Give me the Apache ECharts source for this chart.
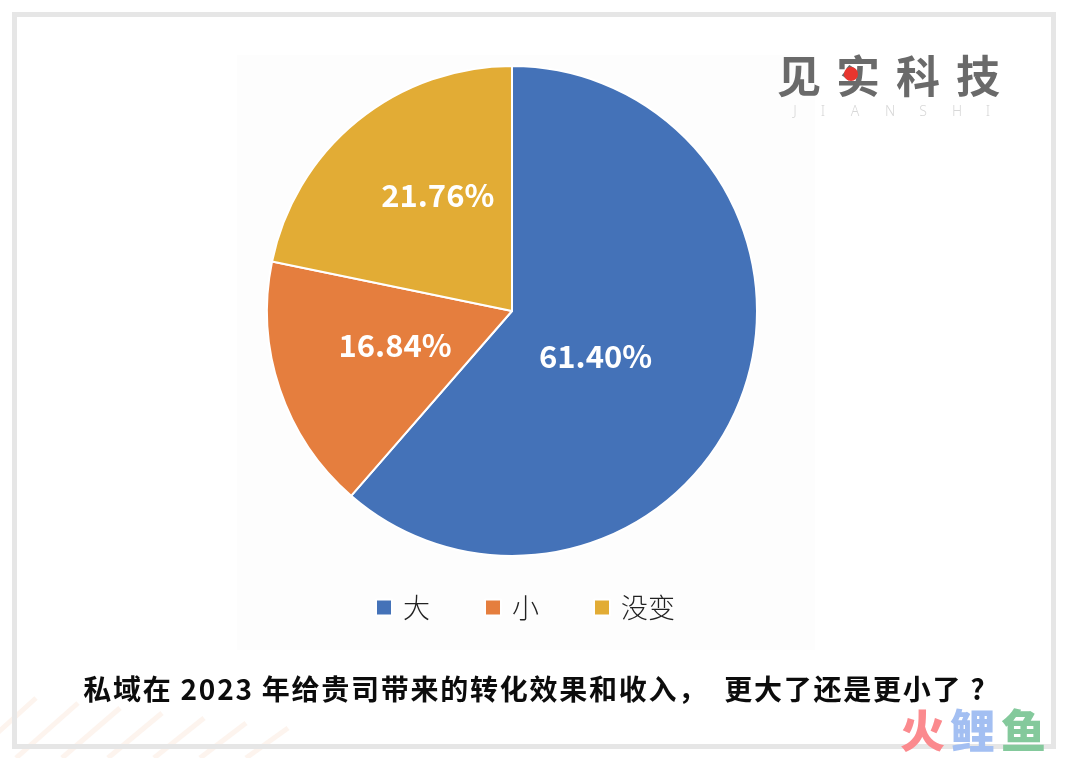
<!DOCTYPE html>
<html><head><meta charset="utf-8">
<style>html,body{margin:0;padding:0;background:#fff}#c{width:1068px;height:758px}</style>
<script src="https://cdn.jsdelivr.net/npm/echarts@6/dist/echarts.min.js"></script>
</head><body><div id="c"></div>
<script>
const categories = ['大', '小', '没变'];
const values = [61.40, 16.84, 21.76];
const colors = ['#4472b8', '#e57e3e', '#e2ac35'];
const titleText = '私域在 2023 年给贵司带来的转化效果和收入，  更大了还是更小了 ?';
const labelShift = [[-34, 1], [2, -6], [5, -18]];
const cjk = '"Noto Sans CJK SC","Noto Sans",sans-serif';
const logoChars = ['见', '实', '科', '技'];
const logoX = [777, 836, 896, 956];
const subChars = ['J', 'I', 'A', 'N', 'S', 'H', 'I'];
const subX = [795, 823, 855, 890, 923, 957, 988];
const brandChars = ['火', '鲤', '鱼'];
const brandX = [900, 950, 1001];
const brandColors = ['#fb8a8e', '#a3bff2', '#84c99c'];

const chart = echarts.init(document.getElementById('c'), null, {renderer: 'canvas'});

const stripes = [];
for (let k = 0; k < 7; k++) {
  const x = 46 * k - 30;
  stripes.push({type: 'line', silent: true, z: 0,
    shape: {x1: x, y1: 758, x2: x + 66 - 4 * k, y2: 698 + 5 * k},
    style: {stroke: '#fdf4ee', lineWidth: 5}});
}

chart.setOption({
  animation: false,
  backgroundColor: '#ffffff',
  color: colors,
  title: {
    text: titleText.split('').join('\u200a'), left: 529, top: 670, textAlign: 'center',
    textStyle: {fontFamily: cjk, fontSize: 28, fontWeight: 'bold', color: '#0c0c0c'}
  },
  legend: {
    data: categories, left: 370, top: 589, itemWidth: 16, itemHeight: 16,
    itemGap: 54, icon: 'rect',
    textStyle: {fontFamily: cjk, fontSize: 27, fontWeight: 300, color: '#222', padding: [0, 0, 0, 6]}
  },
  graphic: [
    ...stripes,
    {type: 'rect', silent: true, z: 0, shape: {x: 237, y: 55, width: 578, height: 595}, style: {fill: '#fdfdfd'}},
    {type: 'rect', silent: true, z: 1, shape: {x: 14.5, y: 14.5, width: 1039, height: 732},
      style: {fill: 'transparent', stroke: '#e6e6e6', lineWidth: 5}},
    ...logoChars.map((c, i) => ({type: 'text', silent: true, z: 5, x: logoX[i], y: 54,
      style: {text: c, fontFamily: cjk, fontSize: 44, fontWeight: 'bold', fill: '#6a6a6a'}})),
    {type: 'circle', silent: true, z: 6, shape: {cx: 851, cy: 74, r: 7}, style: {fill: '#e8352e'}},
    ...subChars.map((c, i) => ({type: 'text', silent: true, z: 5, x: subX[i], y: 105,
      style: {text: c, fontFamily: '"Noto Sans"', fontSize: 14, fontWeight: 300, fill: '#d8d8d8', align: 'center'}})),
    ...brandChars.map((c, i) => ({type: 'text', silent: true, z: 5, x: brandX[i], y: 708,
      style: {text: c, fontFamily: cjk, fontSize: 45, fontWeight: 900, fill: brandColors[i]}}))
  ],
  series: [{
    type: 'pie',
    center: [512, 311],
    radius: [0, 245],
    startAngle: 90,
    clockwise: true,
    avoidLabelOverlap: false,
    itemStyle: {borderColor: '#ffffff', borderWidth: 2},
    label: {
      show: true, position: 'inside',
      formatter: p => p.value.toFixed(2) + '%',
      fontFamily: cjk, fontSize: 31, fontWeight: 'bold', color: '#ffffff'
    },
    labelLine: {show: false},
    labelLayout: p => ({dx: labelShift[p.dataIndex][0], dy: labelShift[p.dataIndex][1]}),
    data: categories.map((name, i) => ({name, value: values[i]}))
  }]
});
</script></body></html>
